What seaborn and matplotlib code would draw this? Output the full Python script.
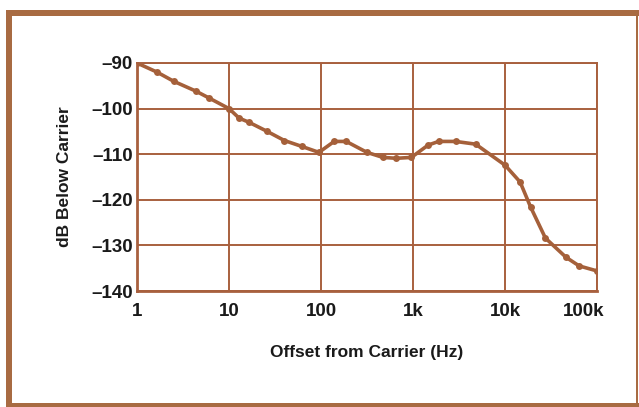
import matplotlib
matplotlib.use("Agg")
import matplotlib.pyplot as plt
import matplotlib.transforms as mtransforms
from matplotlib.patches import Rectangle
import seaborn as sns
import pandas as pd

# values
offset_hz = [1, 1.65, 2.5, 4.4, 6.1, 10, 12.9, 16.5, 26, 40, 62, 95,
             139, 188, 316, 470, 660, 960, 1460, 1900, 2900, 4800,
             10000, 14600, 19000, 27500, 46000, 64000, 100000]
db_below = [-90, -92, -94, -96.2, -97.7, -100, -102.1, -103, -105, -107, -108.3, -109.6,
            -107.2, -107.2, -109.6, -110.7, -110.9, -110.7, -108, -107.2, -107.2, -107.8,
            -112.4, -116.1, -121.6, -128.4, -132.6, -134.5, -135.6]
x_ticks = [1, 10, 100, 1000, 10000, 100000]
x_tick_labels = ["1", "10", "100", "1k", "10k", "100k"]
y_ticks = [-90, -100, -110, -120, -130, -140]
y_tick_labels = ["\u2013" + str(-v) for v in y_ticks]

LINE = "#a5603a"
GRID = "#a8603e"
FRAME = "#a86b42"

sns.set_style("white")
plt.rcParams["font.family"] = ["Liberation Sans", "DejaVu Sans"]
plt.rcParams["font.weight"] = "bold"

df = pd.DataFrame({"Offset": offset_hz, "dB": db_below})

fig = plt.figure(figsize=(6.39, 4.07), dpi=100)
ax = fig.add_axes([137 / 639, 1 - 291 / 407, 460 / 639, 228 / 407])

sns.lineplot(data=df, x="Offset", y="dB", ax=ax, color=LINE, linewidth=2.6,
             marker="o", markersize=5, markeredgewidth=0, markerfacecolor=LINE)

ax.set_xscale("log")
ax.set_xlim(1, 100000)
ax.set_ylim(-140, -90)
ax.set_xticks(x_ticks)
ax.set_xticklabels(x_tick_labels)
ax.minorticks_off()
ax.set_yticks(y_ticks)
ax.set_yticklabels(y_tick_labels)
ax.tick_params(axis="both", length=0, labelsize=13.5, colors="#1a1a1a")
ax.tick_params(axis="x", pad=8.5)
ax.tick_params(axis="y", pad=3)
ax.grid(True, color=GRID, linewidth=1.4)
for s in ax.spines.values():
    s.set_color(GRID)
    s.set_linewidth(1.4)
ax.spines["left"].set_linewidth(2)
ax.spines["bottom"].set_linewidth(2)

# last x label sits left of its grid line, as in the original
last = ax.get_xticklabels()[-1]
last.set_transform(last.get_transform() +
                   mtransforms.ScaledTranslation(-0.13, 0, fig.dpi_scale_trans))

ax.set_xlabel("Offset from Carrier (Hz)", fontsize=12.5, fontweight="bold",
              color="#1a1a1a")
ax.set_ylabel("dB Below Carrier", fontsize=12.5, fontweight="bold",
              color="#1a1a1a")
ax.xaxis.set_label_coords(0.5, (291 - 345) / 228)
ax.yaxis.set_label_coords((72 - 137) / 460, 0.5)

# the brown frame around the page
W, H = 639, 407
for x0, y0, w, h in [(6, 10, 633, 6), (6, 10, 6, 397), (6, 403, 633, 4), (636, 10, 2, 397)]:
    fig.add_artist(Rectangle((x0 / W, 1 - (y0 + h) / H), w / W, h / H,
                             transform=fig.transFigure, facecolor=FRAME,
                             edgecolor="none"))

fig.savefig("out.png", dpi=100)
